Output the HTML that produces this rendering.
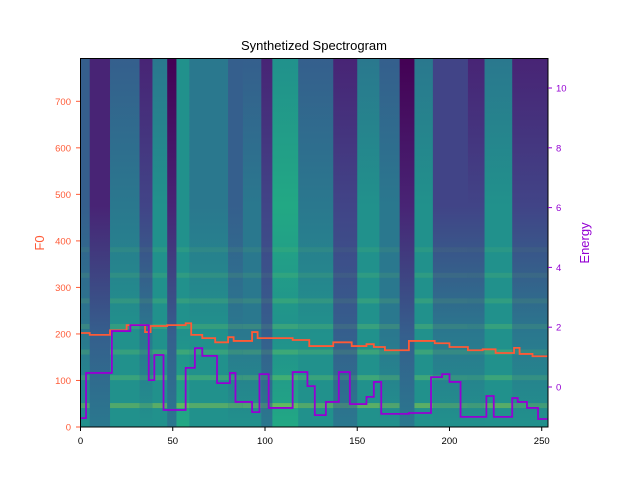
<!DOCTYPE html>
<html><head><meta charset="utf-8"><style>
body{margin:0;background:#fff;}
svg text{font-family:"Liberation Sans","DejaVu Sans",sans-serif;}
</style></head><body>
<svg id="chart" width="640" height="480" xmlns="http://www.w3.org/2000/svg">
<defs id="defs"></defs>
<text x="314" y="50" font-size="13" text-anchor="middle" fill="#000">Synthetized Spectrogram</text>
<g id="spec"></g>
<g id="lines"></g>
<rect x="80.5" y="58.5" width="467.5" height="368.5" fill="none" stroke="#000" stroke-width="1"/>
<g id="axes"></g>
<text transform="translate(44,243) rotate(-90)" font-size="13" text-anchor="middle" fill="#ff5a36">F0</text>
<text transform="translate(589,243) rotate(-90)" font-size="13" text-anchor="middle" fill="#9400d3">Energy</text>
</svg>
<script>
// spectrogram column segments (frame boundaries) and top brightness
const specEdges=[0,5,16,32,39,47,52,59,80,88,98,104,118,137,150,162,173,181,191,210,219,234,253];
const specLevels=[0.25,0.05,0.3,0.12,0.4,0.04,0.45,0.35,0.25,0.28,0.08,0.48,0.3,0.08,0.42,0.28,0.03,0.42,0.15,0.1,0.38,0.12];
const frames=[0,3,11,17,27,37,40,45,57,62,66,74,81,84,93,97,102,115,123,127,133,140,146,155,159,163,178,190,196,200,206,220,224,234,237,242,248,253];
const energy=[-1.04,0.47,0.47,1.87,2.07,0.23,1.07,-0.77,0.64,1.3,1.04,0.13,0.47,-0.5,-0.84,0.43,-0.7,0.5,0.03,-0.94,-0.5,0.5,-0.57,-0.33,0.17,-0.9,-0.87,0.33,0.43,0.17,-1.0,-0.3,-1.0,-0.37,-0.5,-0.7,-1.07];
const f0Frames=[0,5,16,25,35,38,47,57,60,66,73,80,83,93,96,115,124,137,147,155,159,165,178,192,200,210,218,225,235,238,245,253];
const f0=[202,198,208,219,204,217,219,223,198,191,182,193,185,204,191,187,174,182,174,178,172,165,185,180,172,165,167,159,170,157,152];
const xTicks=[0,50,100,150,200,250];
const f0Ticks=[0,100,200,300,400,500,600,700];
const eTicks=[0,2,4,6,8,10];

const NS="http://www.w3.org/2000/svg";
const X0=80.5,XW=467.5,XMAX=253.4;
const sx=v=>X0+v/XMAX*XW;
const YB=427,YT=58.5;
const sf=v=>YB-v*(YB-YT)/792;
const se=v=>387-v*29.9;
const vir=["#440154","#482475","#414487","#355f8d","#2a788e","#21918c","#22a884","#44bf70","#7ad151","#bddf26","#fde725"];
function vc(t){t=Math.max(0,Math.min(1,t));return vir[Math.round(t*10)];}
const defs=document.getElementById('defs'),spec=document.getElementById('spec');
specLevels.forEach((t,i)=>{
  const g=document.createElementNS(NS,'linearGradient');
  g.setAttribute('id','g'+i);g.setAttribute('x1','0');g.setAttribute('y1','0');g.setAttribute('x2','0');g.setAttribute('y2','1');
  [[0,t],[0.4,t+0.08],[0.75,t*0.5+0.3],[1,t*0.3+0.42]].forEach(s=>{const st=document.createElementNS(NS,'stop');st.setAttribute('offset',s[0]);st.setAttribute('stop-color',vc(s[1]));g.appendChild(st);});
  defs.appendChild(g);
  const r=document.createElementNS(NS,'rect');
  
  
  r.setAttribute('x',sx(specEdges[i]));r.setAttribute('y',YT);
  r.setAttribute('width',sx(specEdges[i+1])-sx(specEdges[i])+0.5);r.setAttribute('height',YB-YT);
  r.setAttribute('fill','url(#g'+i+')');spec.appendChild(r);
  if(t>0.07){
    [45,105,160,215,270,325,380].forEach((hz,k)=>{
      const b=document.createElementNS(NS,'rect');
      
      
      b.setAttribute('x',sx(specEdges[i]));b.setAttribute('y',sf(hz)-3);
      b.setAttribute('width',sx(specEdges[i+1])-sx(specEdges[i]));b.setAttribute('height',5);
      b.setAttribute('fill',k==0?'#bddf26':'#7ad151');b.setAttribute('opacity',(0.6-k*0.07)*(t+0.2));
      spec.appendChild(b);
    });
  }
});
function stepPath(fr,vals,sy){let d='';for(let i=0;i<vals.length;i++){const y=sy(vals[i]);d+=(i?'L':'M')+sx(fr[i])+','+y+'L'+sx(fr[i+1])+','+y;}return d;}
const lines=document.getElementById('lines');
const pf=document.createElementNS(NS,'path');


pf.setAttribute('d',stepPath(f0Frames,f0,sf));pf.setAttribute('fill','none');pf.setAttribute('stroke','#ff5a36');pf.setAttribute('stroke-width','1.8');lines.appendChild(pf);
const pe=document.createElementNS(NS,'path');


pe.setAttribute('d',stepPath(frames,energy,se));pe.setAttribute('fill','none');pe.setAttribute('stroke','#9400d3');pe.setAttribute('stroke-width','1.8');lines.appendChild(pe);
const axes=document.getElementById('axes');
function tick(x1,y1,x2,y2,col,name){const l=document.createElementNS(NS,'line');l.setAttribute('x1',x1);l.setAttribute('y1',y1);l.setAttribute('x2',x2);l.setAttribute('y2',y2);l.setAttribute('stroke',col);axes.appendChild(l);}
function label(x,y,s,anc,col,name){const t=document.createElementNS(NS,'text');t.setAttribute('x',x);t.setAttribute('y',y);t.setAttribute('font-size','9.5');t.setAttribute('text-anchor',anc);t.setAttribute('fill',col);t.textContent=s;axes.appendChild(t);}
xTicks.forEach(v=>{const x=sx(v);tick(x,427,x,431,'#000','x-tick');label(x,444,v,'middle','#000','x-tick-label');});
f0Ticks.forEach(v=>{const y=sf(v);tick(76,y,80,y,'#ff5a36','f0-tick');label(71,y+3.5,v,'end','#ff5a36','f0-tick-label');});
eTicks.forEach(v=>{const y=se(v);tick(548,y,552,y,'#9400d3','energy-tick');label(556,y+3.5,v,'start','#9400d3','energy-tick-label');});
</script>
</body></html>
